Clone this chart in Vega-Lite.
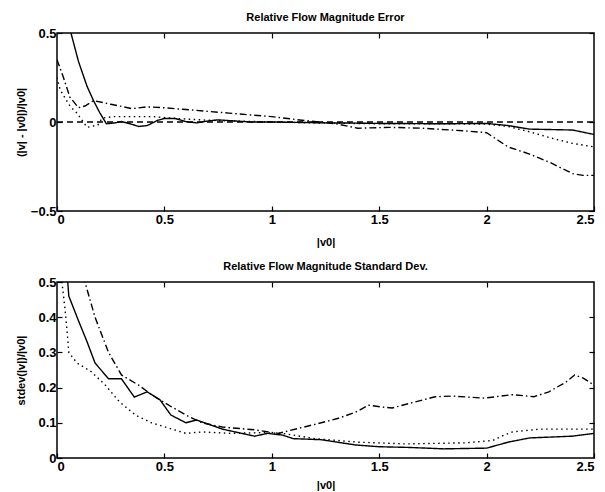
{
  "$schema": "https://vega.github.io/schema/vega-lite/v6.json",
  "padding": {"left": 14, "top": 11, "right": 13, "bottom": 0},
  "background": "white",
  "bounds": "flush",
  "spacing": 71,
  "config": {
    "font": "Liberation Sans",
    "view": {"stroke": "black", "strokeWidth": 1.5},
    "axis": {"domain": false, "grid": false, "labelFont": "Liberation Sans", "labelFontSize": 13, "labelFontWeight": "bold", "labelColor": "black", "tickColor": "black", "tickSize": -5, "tickWidth": 1.2, "titleFont": "Liberation Sans", "titleFontSize": 11, "titleFontWeight": "bold", "titleColor": "black"},
    "title": {"font": "Liberation Sans", "fontSize": 11, "fontWeight": "bold", "color": "black", "anchor": "middle", "offset": 4}
  },
  "datasets": {
    "top": [
      {"s": "solid", "x": 0.03, "y": 0.68}, {"s": "solid", "x": 0.065, "y": 0.5}, {"s": "solid", "x": 0.1, "y": 0.34}, {"s": "solid", "x": 0.14, "y": 0.2}, {"s": "solid", "x": 0.17, "y": 0.12}, {"s": "solid", "x": 0.2, "y": 0.05}, {"s": "solid", "x": 0.23, "y": -0.01}, {"s": "solid", "x": 0.27, "y": -0.005}, {"s": "solid", "x": 0.3, "y": 0.003}, {"s": "solid", "x": 0.34, "y": -0.01}, {"s": "solid", "x": 0.38, "y": -0.025}, {"s": "solid", "x": 0.42, "y": -0.02}, {"s": "solid", "x": 0.47, "y": 0.01}, {"s": "solid", "x": 0.5, "y": 0.02}, {"s": "solid", "x": 0.55, "y": 0.02}, {"s": "solid", "x": 0.6, "y": 0.002}, {"s": "solid", "x": 0.65, "y": -0.005}, {"s": "solid", "x": 0.7, "y": 0.005}, {"s": "solid", "x": 0.75, "y": 0.012}, {"s": "solid", "x": 0.8, "y": 0.008}, {"s": "solid", "x": 0.9, "y": 0.0}, {"s": "solid", "x": 1.0, "y": 0.0}, {"s": "solid", "x": 1.2, "y": -0.004}, {"s": "solid", "x": 1.5, "y": -0.008}, {"s": "solid", "x": 1.8, "y": -0.01}, {"s": "solid", "x": 2.0, "y": -0.008}, {"s": "solid", "x": 2.1, "y": -0.02}, {"s": "solid", "x": 2.2, "y": -0.04}, {"s": "solid", "x": 2.4, "y": -0.045}, {"s": "solid", "x": 2.5, "y": -0.07},
      {"s": "dashed", "x": 0, "y": 0}, {"s": "dashed", "x": 2.5, "y": 0},
      {"s": "dashdot", "x": 0, "y": 0.35}, {"s": "dashdot", "x": 0.03, "y": 0.25}, {"s": "dashdot", "x": 0.06, "y": 0.14}, {"s": "dashdot", "x": 0.1, "y": 0.08}, {"s": "dashdot", "x": 0.13, "y": 0.09}, {"s": "dashdot", "x": 0.17, "y": 0.12}, {"s": "dashdot", "x": 0.25, "y": 0.1}, {"s": "dashdot", "x": 0.35, "y": 0.075}, {"s": "dashdot", "x": 0.42, "y": 0.085}, {"s": "dashdot", "x": 0.5, "y": 0.08}, {"s": "dashdot", "x": 0.6, "y": 0.07}, {"s": "dashdot", "x": 0.8, "y": 0.05}, {"s": "dashdot", "x": 1.0, "y": 0.03}, {"s": "dashdot", "x": 1.14, "y": 0.01}, {"s": "dashdot", "x": 1.3, "y": -0.01}, {"s": "dashdot", "x": 1.4, "y": -0.035}, {"s": "dashdot", "x": 1.55, "y": -0.03}, {"s": "dashdot", "x": 1.7, "y": -0.035}, {"s": "dashdot", "x": 1.9, "y": -0.05}, {"s": "dashdot", "x": 2.0, "y": -0.06}, {"s": "dashdot", "x": 2.1, "y": -0.14}, {"s": "dashdot", "x": 2.2, "y": -0.18}, {"s": "dashdot", "x": 2.3, "y": -0.23}, {"s": "dashdot", "x": 2.4, "y": -0.29}, {"s": "dashdot", "x": 2.45, "y": -0.3}, {"s": "dashdot", "x": 2.5, "y": -0.3},
      {"s": "dotted", "x": 0, "y": 0.25}, {"s": "dotted", "x": 0.015, "y": 0.18}, {"s": "dotted", "x": 0.06, "y": 0.09}, {"s": "dotted", "x": 0.093, "y": 0.05}, {"s": "dotted", "x": 0.14, "y": -0.03}, {"s": "dotted", "x": 0.19, "y": -0.017}, {"s": "dotted", "x": 0.21, "y": 0.022}, {"s": "dotted", "x": 0.26, "y": 0.03}, {"s": "dotted", "x": 0.35, "y": 0.03}, {"s": "dotted", "x": 0.45, "y": 0.03}, {"s": "dotted", "x": 0.55, "y": 0.02}, {"s": "dotted", "x": 0.7, "y": 0.01}, {"s": "dotted", "x": 0.9, "y": 0.003}, {"s": "dotted", "x": 1.2, "y": -0.005}, {"s": "dotted", "x": 1.5, "y": -0.01}, {"s": "dotted", "x": 1.8, "y": -0.01}, {"s": "dotted", "x": 2.0, "y": -0.012}, {"s": "dotted", "x": 2.1, "y": -0.025}, {"s": "dotted", "x": 2.2, "y": -0.055}, {"s": "dotted", "x": 2.3, "y": -0.09}, {"s": "dotted", "x": 2.4, "y": -0.12}, {"s": "dotted", "x": 2.5, "y": -0.14}
    ],
    "bottom": [
      {"s": "solid", "x": 0.04, "y": 0.6}, {"s": "solid", "x": 0.05, "y": 0.5}, {"s": "solid", "x": 0.055, "y": 0.46}, {"s": "solid", "x": 0.1, "y": 0.39}, {"s": "solid", "x": 0.14, "y": 0.33}, {"s": "solid", "x": 0.177, "y": 0.27}, {"s": "solid", "x": 0.24, "y": 0.225}, {"s": "solid", "x": 0.3, "y": 0.225}, {"s": "solid", "x": 0.36, "y": 0.173}, {"s": "solid", "x": 0.42, "y": 0.188}, {"s": "solid", "x": 0.48, "y": 0.165}, {"s": "solid", "x": 0.53, "y": 0.122}, {"s": "solid", "x": 0.6, "y": 0.1}, {"s": "solid", "x": 0.65, "y": 0.108}, {"s": "solid", "x": 0.77, "y": 0.082}, {"s": "solid", "x": 0.92, "y": 0.062}, {"s": "solid", "x": 0.98, "y": 0.07}, {"s": "solid", "x": 1.05, "y": 0.065}, {"s": "solid", "x": 1.1, "y": 0.055}, {"s": "solid", "x": 1.23, "y": 0.052}, {"s": "solid", "x": 1.39, "y": 0.037}, {"s": "solid", "x": 1.5, "y": 0.032}, {"s": "solid", "x": 1.64, "y": 0.03}, {"s": "solid", "x": 1.8, "y": 0.026}, {"s": "solid", "x": 2.0, "y": 0.028}, {"s": "solid", "x": 2.1, "y": 0.045}, {"s": "solid", "x": 2.2, "y": 0.057}, {"s": "solid", "x": 2.4, "y": 0.062}, {"s": "solid", "x": 2.5, "y": 0.07},
      {"s": "dashdot", "x": 0.11, "y": 0.6}, {"s": "dashdot", "x": 0.13, "y": 0.5}, {"s": "dashdot", "x": 0.177, "y": 0.4}, {"s": "dashdot", "x": 0.24, "y": 0.3}, {"s": "dashdot", "x": 0.3, "y": 0.236}, {"s": "dashdot", "x": 0.38, "y": 0.207}, {"s": "dashdot", "x": 0.44, "y": 0.18}, {"s": "dashdot", "x": 0.52, "y": 0.15}, {"s": "dashdot", "x": 0.6, "y": 0.122}, {"s": "dashdot", "x": 0.675, "y": 0.1}, {"s": "dashdot", "x": 0.77, "y": 0.088}, {"s": "dashdot", "x": 0.92, "y": 0.08}, {"s": "dashdot", "x": 1.03, "y": 0.07}, {"s": "dashdot", "x": 1.13, "y": 0.085}, {"s": "dashdot", "x": 1.23, "y": 0.1}, {"s": "dashdot", "x": 1.31, "y": 0.113}, {"s": "dashdot", "x": 1.39, "y": 0.13}, {"s": "dashdot", "x": 1.45, "y": 0.15}, {"s": "dashdot", "x": 1.51, "y": 0.145}, {"s": "dashdot", "x": 1.56, "y": 0.142}, {"s": "dashdot", "x": 1.64, "y": 0.155}, {"s": "dashdot", "x": 1.76, "y": 0.174}, {"s": "dashdot", "x": 1.84, "y": 0.176}, {"s": "dashdot", "x": 1.99, "y": 0.17}, {"s": "dashdot", "x": 2.12, "y": 0.18}, {"s": "dashdot", "x": 2.22, "y": 0.174}, {"s": "dashdot", "x": 2.29, "y": 0.188}, {"s": "dashdot", "x": 2.37, "y": 0.216}, {"s": "dashdot", "x": 2.41, "y": 0.236}, {"s": "dashdot", "x": 2.45, "y": 0.227}, {"s": "dashdot", "x": 2.5, "y": 0.207},
      {"s": "dotted", "x": 0.015, "y": 0.6}, {"s": "dotted", "x": 0.023, "y": 0.5}, {"s": "dotted", "x": 0.037, "y": 0.425}, {"s": "dotted", "x": 0.047, "y": 0.36}, {"s": "dotted", "x": 0.055, "y": 0.3}, {"s": "dotted", "x": 0.093, "y": 0.27}, {"s": "dotted", "x": 0.16, "y": 0.245}, {"s": "dotted", "x": 0.225, "y": 0.207}, {"s": "dotted", "x": 0.29, "y": 0.16}, {"s": "dotted", "x": 0.365, "y": 0.122}, {"s": "dotted", "x": 0.44, "y": 0.1}, {"s": "dotted", "x": 0.52, "y": 0.085}, {"s": "dotted", "x": 0.6, "y": 0.07}, {"s": "dotted", "x": 0.675, "y": 0.074}, {"s": "dotted", "x": 0.81, "y": 0.07}, {"s": "dotted", "x": 0.95, "y": 0.072}, {"s": "dotted", "x": 1.05, "y": 0.07}, {"s": "dotted", "x": 1.2, "y": 0.055}, {"s": "dotted", "x": 1.4, "y": 0.045}, {"s": "dotted", "x": 1.62, "y": 0.04}, {"s": "dotted", "x": 1.9, "y": 0.043}, {"s": "dotted", "x": 2.03, "y": 0.05}, {"s": "dotted", "x": 2.07, "y": 0.062}, {"s": "dotted", "x": 2.12, "y": 0.074}, {"s": "dotted", "x": 2.25, "y": 0.082}, {"s": "dotted", "x": 2.5, "y": 0.082}
    ]
  },
  "vconcat": [
    {
      "width": 537,
      "height": 178,
      "title": "Relative Flow Magnitude Error",
      "data": {"name": "top"},
      "resolve": {"axis": {"x": "independent", "y": "independent"}},
      "layer": [
        {
          "mark": {"type": "line", "clip": true, "color": "black", "strokeWidth": 1.4},
          "encoding": {
            "x": {"field": "x", "type": "quantitative", "scale": {"domain": [0, 2.5], "nice": false, "zero": false}, "axis": {"values": [0, 0.5, 1, 1.5, 2, 2.5], "format": "~g", "title": "|v0|", "labelPadding": 7, "titleY": 31, "titleBaseline": "middle"}},
            "y": {"field": "y", "type": "quantitative", "scale": {"domain": [-0.5, 0.5], "nice": false, "zero": false}, "axis": {"values": [-0.5, 0, 0.5], "format": "~g", "title": "(|v| - |v0|)/|v0|", "labelPadding": 6, "titleX": -36, "titleBaseline": "middle"}},
            "strokeDash": {"field": "s", "type": "nominal", "legend": null, "scale": {"domain": ["solid", "dashed", "dashdot", "dotted"], "range": [[1, 0], [6, 4], [7, 3, 1.5, 3], [1.5, 3.5]]}}
          }
        },
        {
          "mark": {"type": "line", "opacity": 0, "clip": true},
          "encoding": {
            "x": {"field": "x", "type": "quantitative", "axis": {"orient": "top", "values": [0.5, 1, 1.5, 2], "labels": false, "title": null}},
            "y": {"field": "y", "type": "quantitative", "axis": {"orient": "right", "values": [-0.5, 0, 0.5], "labels": false, "title": null}}
          }
        }
      ]
    },
    {
      "width": 537,
      "height": 176,
      "title": "Relative Flow Magnitude Standard Dev.",
      "data": {"name": "bottom"},
      "resolve": {"axis": {"x": "independent", "y": "independent"}},
      "layer": [
        {
          "mark": {"type": "line", "clip": true, "color": "black", "strokeWidth": 1.4},
          "encoding": {
            "x": {"field": "x", "type": "quantitative", "scale": {"domain": [0, 2.5], "nice": false, "zero": false}, "axis": {"values": [0, 0.5, 1, 1.5, 2, 2.5], "format": "~g", "title": "|v0|", "labelPadding": 7, "titleY": 27, "titleBaseline": "middle"}},
            "y": {"field": "y", "type": "quantitative", "scale": {"domain": [0, 0.5], "nice": false, "zero": false}, "axis": {"values": [0, 0.1, 0.2, 0.3, 0.4, 0.5], "format": "~g", "title": "stdev(|v|)/|v0|", "labelPadding": 6, "titleX": -36, "titleBaseline": "middle"}},
            "strokeDash": {"field": "s", "type": "nominal", "legend": null, "scale": {"domain": ["solid", "dashed", "dashdot", "dotted"], "range": [[1, 0], [6, 4], [7, 3, 1.5, 3], [1.5, 3.5]]}}
          }
        },
        {
          "mark": {"type": "line", "opacity": 0, "clip": true},
          "encoding": {
            "x": {"field": "x", "type": "quantitative", "axis": {"orient": "top", "values": [0.5, 1, 1.5, 2], "labels": false, "title": null}},
            "y": {"field": "y", "type": "quantitative", "axis": {"orient": "right", "values": [0.1, 0.2, 0.3, 0.4], "labels": false, "title": null}}
          }
        }
      ]
    }
  ]
}
